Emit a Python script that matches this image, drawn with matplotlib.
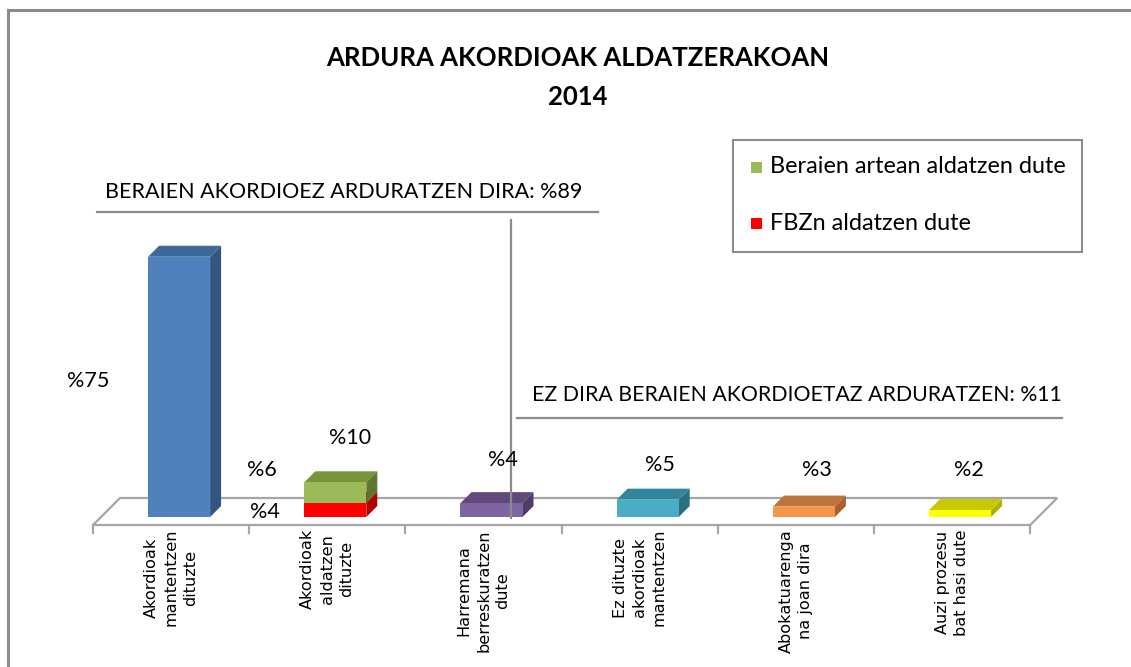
import matplotlib
matplotlib.use("Agg")
import matplotlib.pyplot as plt
from matplotlib.patches import Polygon, Rectangle
from matplotlib.lines import Line2D

# ---------------- data ----------------
categories = [
    "Akordioak\nmantentzen\ndituzte",
    "Akordioak\naldatzen\ndituzte",
    "Harremana\nberreskuratzen\ndute",
    "Ez dituzte\nakordioak\nmantentzen",
    "Abokatuarenga\nna joan dira",
    "Auzi prozesu\nbat hasi dute",
]
# single-value bars (None where the bar is stacked)
single_values = [75, None, 4, 5, 3, 2]
# stacked bar (category index 1)
stack_red = 4     # FBZn aldatzen dute
stack_green = 6   # Beraien artean aldatzen dute
stack_total = 10
value_labels = ["%75", "%6", "%10", "%4", "%4", "%5", "%3", "%2"]
legend_labels = ["Beraien artean aldatzen dute", "FBZn aldatzen dute"]
title_lines = ["ARDURA AKORDIOAK ALDATZERAKOAN", "2014"]
group_labels = ["BERAIEN AKORDIOEZ ARDURATZEN DIRA: %89",
                "EZ DIRA BERAIEN AKORDIOETAZ ARDURATZEN: %11"]

# ---------------- styles ----------------
front_cols = ["#4F81BD", None, "#8064A2", "#4BACC6", "#F79646", "#FFFF00"]
top_cols = ["#3E679B", None, "#604A7B", "#31859C", "#C0733A", "#C8C800"]
side_cols = ["#34557F", None, "#4E3C66", "#2B6F82", "#A9602F", "#B0B000"]
red_cols = ("#FF0000", "#C00000", "#B00000")
green_cols = ("#9BBB59", "#77933C", "#5F7530")

W, H, DPI = 1131, 667, 100
X0 = 93.0          # px of front-left floor corner
CW = 156.2         # px per category
FY = 525.0         # px of floor front edge
PP = 3.47          # px per percent
ZF, ZB, ZFLOOR = 8.0, 19.0, 27.0  # depth (px) of bar front/back and floor back
BW = 62.0 / CW

fig = plt.figure(figsize=(W / DPI, H / DPI), dpi=DPI)
ax = fig.add_axes([0, 0, 1, 1])
ax.set_xlim((0 - X0) / CW, (W - X0) / CW)
ax.set_ylim((FY - H) / PP, FY / PP)
ax.axis("off")


def proj(x, y, z):
    return (x + z / CW, y + z / PP)


def fx(px):
    return px / W


def fy(py):
    return 1 - py / H


# floor
n = len(categories)
floor = Polygon([proj(0, 0, 0), proj(n, 0, 0), proj(n, 0, ZFLOOR), proj(0, 0, ZFLOOR)],
                closed=True, facecolor="white", edgecolor="#A6A6A6", lw=1.6, zorder=1)
ax.add_patch(floor)
for i in range(n + 1):
    ax.plot([i, i], [0, -8 / PP], color="#A6A6A6", lw=1.6, zorder=1)


def draw_box(i, bottom, height, cols, zo):
    xc = i + 0.5
    xl, xr = xc - BW / 2, xc + BW / 2
    top = bottom + height
    # front face via bar
    fxl, fyb = proj(xl, bottom, ZF)
    ax.bar(fxl, height, width=BW, bottom=fyb, align="edge", color=cols[0],
           edgecolor="none", zorder=zo + 0.2)
    topface = Polygon([proj(xl, top, ZF), proj(xr, top, ZF), proj(xr, top, ZB), proj(xl, top, ZB)],
                      closed=True, facecolor=cols[1], edgecolor="none", zorder=zo + 0.1)
    side = Polygon([proj(xr, bottom, ZF), proj(xr, top, ZF), proj(xr, top, ZB), proj(xr, bottom, ZB)],
                   closed=True, facecolor=cols[2], edgecolor="none", zorder=zo)
    ax.add_patch(topface)
    ax.add_patch(side)


for i, v in enumerate(single_values):
    if v is None:
        draw_box(i, 0, stack_red, red_cols, 3)
        draw_box(i, stack_red, stack_green, green_cols, 4)
    else:
        draw_box(i, 0, v, (front_cols[i], top_cols[i], side_cols[i]), 3)

# category labels
for i, lab in enumerate(categories):
    ax.text(i + 0.5, (FY - 529) / PP, lab, rotation=90, ha="center", va="top",
            multialignment="center", fontsize=11.6, family="DejaVu Sans",
            linespacing=1.38, color="#000000")

FONT = ["Lato", "DejaVu Sans"]

# title
fig.text(fx(578), fy(58), title_lines[0], ha="center", va="center", fontsize=18.5,
         fontweight="bold", family=FONT)
fig.text(fx(578), fy(97), title_lines[1], ha="center", va="center", fontsize=18.5,
         fontweight="bold", family=FONT)

# group annotations
fig.text(fx(105), fy(192), group_labels[0], ha="left", va="center", fontsize=15.5, family=FONT)
fig.text(fx(1062), fy(395), group_labels[1], ha="right", va="center", fontsize=15.3, family=FONT)
for (x1, y1, x2, y2) in [(97, 212, 598, 212), (517, 418, 1062, 418), (511, 220, 511, 518)]:
    fig.add_artist(Line2D([fx(x1), fx(x2)], [fy(y1), fy(y2)], color="#8C8C8C", lw=1.6, zorder=6))

# value labels (positions in px)
label_pos = [(88, 381), (262, 470), (350, 438), (265, 512), (503, 460), (660, 465), (817, 470), (969, 470)]
for t, (px, py) in zip(value_labels, label_pos):
    fig.text(fx(px), fy(py), t, ha="center", va="center", fontsize=15.5, family=FONT, zorder=7)

# legend
fig.add_artist(Rectangle((fx(733), fy(252)), fx(1082) - fx(733), fy(140) - fy(252),
                         transform=fig.transFigure, facecolor="white", edgecolor="#8C8C8C", lw=1.5))
for lab, col, py in zip(legend_labels, [green_cols[0], red_cols[0]], [167, 223]):
    fig.add_artist(Rectangle((fx(751), fy(py + 6)), fx(762) - fx(751), fy(py - 5) - fy(py + 6),
                             transform=fig.transFigure, facecolor=col, edgecolor="none"))
    fig.text(fx(770), fy(py), lab, ha="left", va="center", fontsize=16.9, family=FONT)

# outer frame
fig.add_artist(Line2D([fx(8), fx(8)], [fy(10), fy(H + 2)], color="#8C8C8C", lw=2.2))
fig.add_artist(Line2D([fx(8), fx(W + 2)], [fy(10), fy(10)], color="#8C8C8C", lw=2.2))

fig.savefig("out.png", dpi=DPI)
